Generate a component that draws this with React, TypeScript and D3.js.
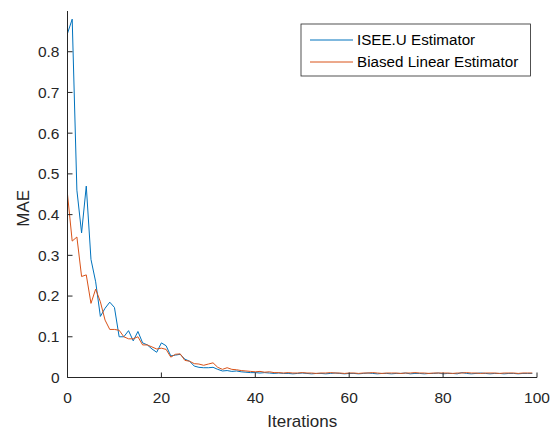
import React from "react";
import * as d3 from "d3";

const iterations: number[] = Array.from({ length: 100 }, (_, i) => i);

const iseeU: number[] = [
  0.845, 0.88, 0.46, 0.355, 0.47, 0.29, 0.235, 0.15, 0.17, 0.185,
  0.172, 0.1, 0.1, 0.115, 0.09, 0.113, 0.085, 0.08, 0.07, 0.062,
  0.085, 0.078, 0.053, 0.055, 0.057, 0.045, 0.04, 0.028, 0.025, 0.024,
  0.024, 0.025, 0.02, 0.016, 0.017, 0.015, 0.016, 0.014, 0.013, 0.012,
  0.012, 0.011, 0.012, 0.011, 0.01, 0.011, 0.01, 0.01, 0.009, 0.01,
  0.011, 0.01, 0.009, 0.01, 0.01, 0.009, 0.01, 0.011, 0.01, 0.009,
  0.01, 0.01, 0.009, 0.01, 0.011, 0.01, 0.009, 0.01, 0.01, 0.009,
  0.01, 0.01, 0.011, 0.009, 0.01, 0.01, 0.009, 0.01, 0.01, 0.011,
  0.009, 0.01, 0.01, 0.009, 0.012, 0.01, 0.009, 0.01, 0.011, 0.01,
  0.009, 0.01, 0.01, 0.009, 0.01, 0.01, 0.009, 0.01, 0.01, 0.01,
];

const biasedLinear: number[] = [
  0.45, 0.335, 0.345, 0.248, 0.252, 0.182, 0.217, 0.186, 0.141, 0.118,
  0.118, 0.116, 0.1, 0.095, 0.095, 0.1, 0.08, 0.08, 0.075, 0.07,
  0.072, 0.069, 0.05, 0.057, 0.058, 0.042, 0.04, 0.034, 0.033, 0.03,
  0.033, 0.036, 0.025, 0.02, 0.024, 0.02, 0.019, 0.017, 0.016, 0.015,
  0.014, 0.015, 0.013, 0.014, 0.012, 0.012, 0.011, 0.012, 0.011, 0.011,
  0.012, 0.011, 0.011, 0.01, 0.011, 0.011, 0.012, 0.011, 0.011, 0.01,
  0.011, 0.011, 0.01, 0.011, 0.011, 0.012, 0.011, 0.01, 0.011, 0.011,
  0.011, 0.01, 0.011, 0.011, 0.012, 0.011, 0.011, 0.01, 0.011, 0.011,
  0.011, 0.011, 0.01, 0.011, 0.011, 0.012, 0.011, 0.011, 0.01, 0.011,
  0.011, 0.011, 0.01, 0.011, 0.011, 0.011, 0.01, 0.011, 0.011, 0.011,
];

const xTicks: number[] = [0, 20, 40, 60, 80, 100];
const yTicks: number[] = [0, 0.1, 0.2, 0.3, 0.4, 0.5, 0.6, 0.7, 0.8];
const seriesNames: string[] = ["ISEE.U Estimator", "Biased Linear Estimator"];
const seriesColors: string[] = ["#0072BD", "#D95319"];

const W = 557;
const H = 437;
const left = 67.5;
const right = 537;
const top = 11;
const bottom = 377.5;
const axisColor = "#262626";
const font = "'Liberation Sans', Arial, Helvetica, sans-serif";

export default function App() {
  const x = d3.scaleLinear().domain([0, 100]).range([left, right]);
  const y = d3.scaleLinear().domain([0, 0.9]).range([bottom, top]);
  const line = d3
    .line<number>()
    .x((_, i) => x(iterations[i]))
    .y((d) => y(d));
  const series = [iseeU, biasedLinear];

  return (
    <svg
      width={W}
      height={H}
      style={{ position: "absolute", left: 0, top: 0, background: "#fff" }}
      fontFamily={font}
    >
      <rect x={0} y={0} width={W} height={H} fill="#fff" />
      {series.map((s, k) => (
        <path key={k} d={line(s) || ""} fill="none" stroke={seriesColors[k]} strokeWidth={1} />
      ))}
      <line x1={left} x2={left} y1={top} y2={bottom} stroke={axisColor} strokeWidth={1} />
      <line x1={left} x2={right} y1={bottom} y2={bottom} stroke={axisColor} strokeWidth={1} />
      {yTicks.map((t) => (
        <g key={"y" + t}>
          <line x1={left} x2={left + 5} y1={y(t)} y2={y(t)} stroke={axisColor} strokeWidth={1} />
          <text x={left - 8} y={y(t)} dy="0.35em" textAnchor="end" fontSize={15.5} fill={axisColor}>
            {t === 0 ? "0" : d3.format(".1f")(t)}
          </text>
        </g>
      ))}
      {xTicks.map((t) => (
        <g key={"x" + t}>
          <line x1={x(t)} x2={x(t)} y1={bottom} y2={bottom - 5} stroke={axisColor} strokeWidth={1} />
          <text x={x(t)} y={403} textAnchor="middle" fontSize={15.5} fill={axisColor}>
            {t}
          </text>
        </g>
      ))}
      <text x={(left + right) / 2} y={427} textAnchor="middle" fontSize={17} fill={axisColor}>
        Iterations
      </text>
      <text
        transform={`translate(29,${(top + bottom) / 2 + 14}) rotate(-90)`}
        textAnchor="middle"
        fontSize={17}
        fill={axisColor}
      >
        MAE
      </text>
      <rect x={301} y={24} width={229.5} height={52} fill="#fff" stroke={axisColor} strokeWidth={0.8} />
      {seriesNames.map((n, k) => (
        <g key={n}>
          <line x1={310} x2={353} y1={40 + k * 22} y2={40 + k * 22} stroke={seriesColors[k]} strokeWidth={1} />
          <text x={357} y={40 + k * 22} dy="0.35em" fontSize={15.2} fill="#000">
            {n}
          </text>
        </g>
      ))}
    </svg>
  );
}
